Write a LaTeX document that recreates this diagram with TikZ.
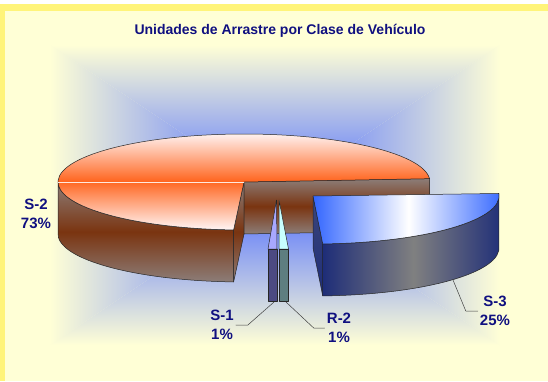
\documentclass[tikz,border=0pt]{standalone}
\usepackage{fontspec}
\setmainfont{Liberation Sans}
\usetikzlibrary{calc}
\definecolor{bgyel}{RGB}{255,255,214}
\definecolor{frameyel}{RGB}{255,244,122}
\definecolor{glowblue}{RGB}{78,108,255}
\definecolor{s2top}{RGB}{255,246,246}
\definecolor{s2orange}{RGB}{255,102,32}
\definecolor{s2brown}{RGB}{122,52,16}
\definecolor{s2gray}{RGB}{140,125,120}
\definecolor{s3blue}{RGB}{51,102,255}
\definecolor{s3navy}{RGB}{30,45,120}
\definecolor{s3gray}{RGB}{128,128,128}
\definecolor{s1top}{RGB}{168,168,255}
\definecolor{s1side}{RGB}{76,74,130}
\definecolor{r2top}{RGB}{200,255,255}
\definecolor{r2side}{RGB}{94,126,128}
\definecolor{labnavy}{RGB}{16,16,128}
\begin{document}
\begin{tikzpicture}[x=1pt, y=-1pt, line join=round, line cap=round,
    edge/.style={draw=black!85, line width=.5pt},
    brownwall/.style={edge, top color=s2gray, bottom color=s2gray, middle color=s2brown},
    lbl/.style={text=labnavy, font=\fontsize{15}{19}\selectfont\bfseries, align=center, inner sep=2pt},
    leader/.style={draw=black!75, line width=.5pt}]
\useasboundingbox (0,0) rectangle (548,381);
\fill[white] (0,0) rectangle (548,381);
\fill[frameyel] (0,4) rectangle (548,381);
\fill[bgyel] (5,11) rectangle (548,381);
\coordinate (g) at (275,195);
\shade[top color=bgyel, bottom color=glowblue] (50,45) -- (500,45) -- (g) -- cycle;
\shade[top color=glowblue, bottom color=bgyel] (50,345) -- (500,345) -- (g) -- cycle;
\shade[left color=bgyel, right color=glowblue] (50,45) -- (50,345) -- (g) -- cycle;
\shade[left color=glowblue, right color=bgyel] (500,45) -- (500,345) -- (g) -- cycle;

\coordinate (c2) at (244,182);
\path (c2) ++(-4:186 and 48) coordinate (s2b)
      (c2) ++(93.2:186 and 48) coordinate (s2f)
      (c2) ++(180:186 and 48) coordinate (s2l)
      (c2) ++(0,52) coordinate (c2d);
\shadedraw[brownwall] (s2l) arc[start angle=180, end angle=93.2, x radius=186, y radius=48]
  -- ++(0,52) arc[start angle=93.2, end angle=180, x radius=186, y radius=48] -- cycle;
\shadedraw[brownwall] (c2) -- (s2f) -- ++(0,52) -- (c2d) -- cycle;
\shadedraw[brownwall] (c2) -- (s2b) -- ++(0,52) -- (c2d) -- cycle;
\shadedraw[edge, top color=s2top, bottom color=s2top, middle color=s2orange]
  (c2) -- (s2b) arc[start angle=-4, end angle=-266.8, x radius=186, y radius=48] -- cycle;
\draw[white!85!s2orange, line width=.7pt] (s2l) -- (c2);

\filldraw[edge, fill=s1top] (276.5,200) -- (268,249) -- (277,249) -- cycle;
\filldraw[edge, fill=s1side] (268,249) rectangle (277,301);
\filldraw[edge, fill=r2top] (279,200) -- (279,249) -- (288.5,249) -- cycle;
\filldraw[edge, fill=r2side] (279,249) rectangle (288.5,301);

\coordinate (c3) at (313,196);
\path (c3) ++(87:186 and 48) coordinate (s3f)
      (c3) ++(-3:186 and 48) coordinate (s3b)
      (c3) ++(0,52) coordinate (c3d);
\shadedraw[edge, top color=s3navy!70!s3gray, bottom color=s3navy] (c3) -- (s3f) -- ++(0,52) -- (c3d) -- cycle;
\shadedraw[edge, left color=s3navy, right color=s3navy, middle color=s3gray]
  (s3f) arc[start angle=87, end angle=-3, x radius=186, y radius=48]
  -- ++(0,52) arc[start angle=-3, end angle=87, x radius=186, y radius=48] -- cycle;
\shadedraw[edge, left color=s3blue, right color=s3blue, middle color=white]
  (c3) -- (s3f) arc[start angle=87, end angle=-3, x radius=186, y radius=48] -- cycle;

\node[text=labnavy, font=\fontsize{14}{16}\selectfont\bfseries, anchor=base] (title) at (280,34) {Unidades de Arrastre por Clase de Vehículo};
\node[lbl] (s2lab) at (36,214) {S-2\\73\%};
\node[lbl] (s1lab) at (222,325) {S-1\\1\%};
\node[lbl] (r2lab) at (339,328) {R-2\\1\%};
\node[lbl] (s3lab) at (495,311) {S-3\\25\%};
\coordinate (s1pt) at (274,302);
\coordinate (r2pt) at (286,302);
\coordinate (s3pt) at (453,280);
\draw[leader] (s1pt) -- ([xshift=12pt]s1lab.east) -- (s1lab.east);
\draw[leader] (r2pt) -- ([xshift=-11pt]r2lab.west) -- (r2lab.west);
\draw[leader] (s3pt) -- ([xshift=-12pt]s3lab.west) -- (s3lab.west);
\end{tikzpicture}
\end{document}
